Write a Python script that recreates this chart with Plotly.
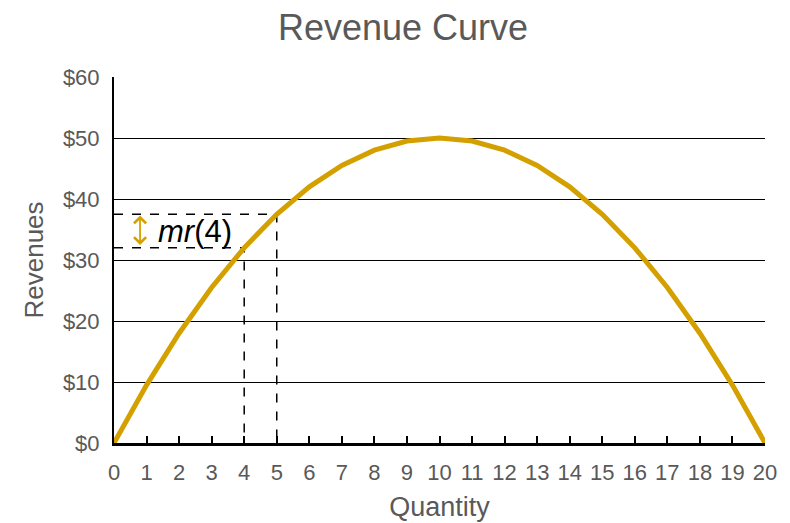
import plotly.graph_objects as go

# Data
quantity = list(range(0, 21))
revenue = [0, 9.5, 18, 25.5, 32, 37.5, 42, 45.5, 48, 49.5, 50,
           49.5, 48, 45.5, 42, 37.5, 32, 25.5, 18, 9.5, 0]
marked_q = [4, 5]
y_ticks = [0, 10, 20, 30, 40, 50, 60]
y_labels = ["$" + str(v) for v in y_ticks]

GOLD = "#D4A000"
GREY = "#595959"
FONT = "Liberation Sans, Arial, sans-serif"

fig = go.Figure()

# dashed guide lines at q=4 and q=5
for q in marked_q:
    r = revenue[quantity.index(q)]
    fig.add_trace(go.Scatter(x=[0, q, q], y=[r, r, 0], mode="lines",
                             line=dict(color="black", width=1.5, dash="dash"),
                             hoverinfo="skip", showlegend=False))

# revenue curve
fig.add_trace(go.Scatter(x=quantity, y=revenue, mode="lines",
                         line=dict(color=GOLD, width=5),
                         showlegend=False))

# double arrow showing mr(4)
r4 = revenue[quantity.index(4)]
r5 = revenue[quantity.index(5)]
fig.add_annotation(x=0.8, y=r5 - 0.2, ax=0.8, ay=r4 + 0.2,
                   xref="x", yref="y", axref="x", ayref="y",
                   showarrow=True, arrowhead=4, startarrowhead=4,
                   arrowside="end+start", arrowsize=1.3, startarrowsize=1.3,
                   arrowwidth=1.8, arrowcolor=GOLD, text="")
fig.add_annotation(x=1.3, y=(r4 + r5) / 2, xref="x", yref="y",
                   text="<i>mr</i>(4)", showarrow=False, xanchor="left",
                   yanchor="middle",
                   font=dict(size=31, color="black", family=FONT))

fig.update_layout(
    width=790, height=523,
    margin=dict(l=106, r=33, t=69, b=88),
    paper_bgcolor="white", plot_bgcolor="white",
    font=dict(family=FONT, color=GREY),
    title=dict(text="Revenue Curve", x=0.5, xanchor="center",
               xref="container", yref="container",
               y=0.963, yanchor="middle",
               font=dict(size=36, color=GREY, family=FONT)),
    xaxis=dict(range=[0, 20], tickmode="array", tickvals=quantity,
               showgrid=False, zeroline=False,
               showline=True, linecolor="black", linewidth=3,
               ticks="inside", ticklen=7, tickwidth=2, tickcolor="black",
               ticklabelstandoff=8,
               tickfont=dict(size=22, color=GREY),
               title=dict(text="Quantity", font=dict(size=27, color=GREY),
                          standoff=13)),
    yaxis=dict(range=[0, 60], tickmode="array", tickvals=y_ticks,
               ticktext=y_labels,
               showgrid=True, gridcolor="black",
               gridwidth=1, zeroline=False,
               showline=True, linecolor="black", linewidth=2,
               ticks="", ticklabelstandoff=8,
               tickfont=dict(size=22, color=GREY),
               title=dict(text="Revenues", font=dict(size=26, color=GREY),
                          standoff=12)),
)

fig.write_html("out.html")
